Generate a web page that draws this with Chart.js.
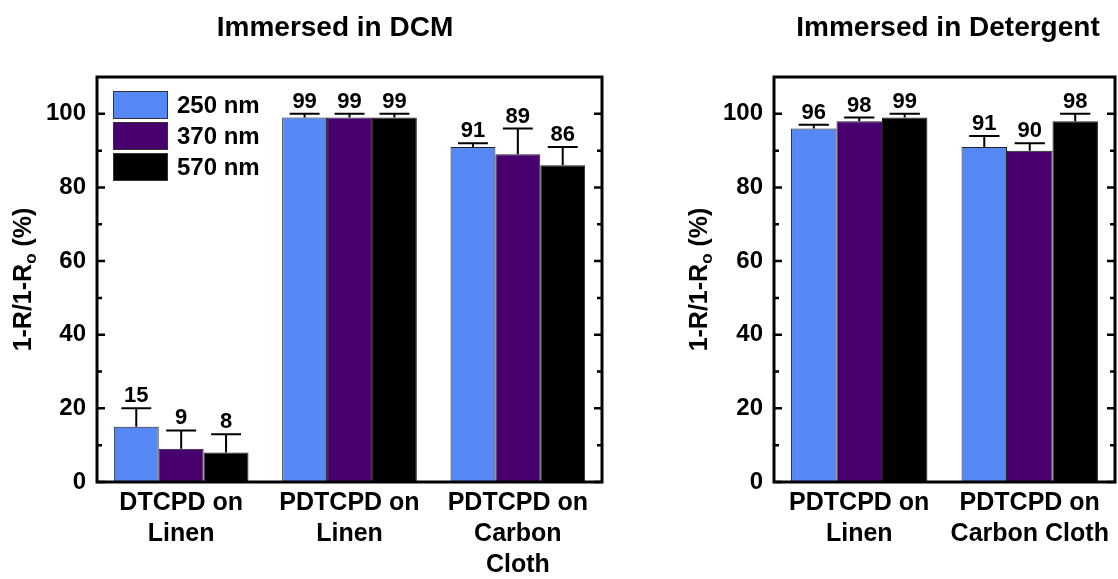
<!DOCTYPE html>
<html>
<head>
<meta charset="utf-8">
<script src="https://cdn.jsdelivr.net/npm/chart.js@4/dist/chart.umd.min.js"></script>
<style>
  html, body { margin: 0; padding: 0; background: #fff; }
  #wrap { position: relative; width: 1118px; height: 579px; overflow: hidden; }
  #dcm { position: absolute; left: 0; top: 0; }
  #det { position: absolute; left: 650px; top: 0; }
</style>
</head>
<body>
<div id="wrap">
  <canvas id="dcm" width="650" height="579"></canvas>
  <canvas id="det" width="468" height="579"></canvas>
</div>
<script>
// data
const series = ['250 nm', '370 nm', '570 nm'];
const colors = ['#5588F4', '#47006E', '#000000'];

const dcmCategories = [['DTCPD on', 'Linen'], ['PDTCPD on', 'Linen'], ['PDTCPD on', 'Carbon', 'Cloth']];
const dcm250 = [15, 99, 91];
const dcm370 = [9, 99, 89];
const dcm570 = [8, 99, 86];
const dcmErr250 = [5, 1, 1];
const dcmErr370 = [5, 1, 7];
const dcmErr570 = [5, 1, 5];

const detCategories = [['PDTCPD on', 'Linen'], ['PDTCPD on', 'Carbon Cloth']];
const det250 = [96, 91];
const det370 = [98, 90];
const det570 = [99, 98];
const detErr250 = [1, 3];
const detErr370 = [1, 2];
const detErr570 = [1, 2];

const yTicks = [0, 20, 40, 60, 80, 100];
const yMinorTicks = [10, 30, 50, 70, 90];

const FONT = '"Liberation Sans", Arial, sans-serif';
Chart.defaults.font.family = FONT;
Chart.defaults.color = '#000';

// frame, inward ticks, error bars, labels, titles
const decorations = {
    id: 'decorations',
    afterDatasetsDraw(chart, args, opts) {
        const { ctx, chartArea: a, scales: { y } } = chart;
        ctx.save();

        // error bars + value labels
        chart.data.datasets.forEach((ds, i) => {
            const meta = chart.getDatasetMeta(i);
            meta.data.forEach((bar, j) => {
                const top = y.getPixelForValue(ds.data[j] + ds.errors[j]);
                const half = bar.width / 3;
                ctx.strokeStyle = '#000';
                ctx.lineWidth = 2;
                ctx.beginPath();
                ctx.moveTo(bar.x, bar.y);
                ctx.lineTo(bar.x, top);
                ctx.moveTo(bar.x - half, top);
                ctx.lineTo(bar.x + half, top);
                ctx.stroke();

                ctx.fillStyle = '#000';
                ctx.font = 'bold 22px ' + FONT;
                ctx.textAlign = 'center';
                ctx.textBaseline = 'alphabetic';
                ctx.fillText(String(ds.data[j]), bar.x, top - 6);
            });
        });

        // box
        ctx.lineWidth = 3;
        ctx.strokeStyle = '#000';
        ctx.strokeRect(a.left, a.top, a.right - a.left, a.bottom - a.top);

        // inward ticks on both sides
        ctx.lineWidth = 2.5;
        const tick = (v, len) => {
            const py = y.getPixelForValue(v);
            ctx.beginPath();
            ctx.moveTo(a.left, py);
            ctx.lineTo(a.left + len, py);
            ctx.moveTo(a.right, py);
            ctx.lineTo(a.right - len, py);
            ctx.stroke();
        };
        yTicks.forEach(v => tick(v, 8));
        yMinorTicks.forEach(v => tick(v, 5));

        // panel title
        ctx.fillStyle = '#000';
        ctx.font = 'bold 28px ' + FONT;
        ctx.textAlign = 'center';
        ctx.textBaseline = 'middle';
        ctx.fillText(opts.title, opts.titleX, 28);

        // y axis title with subscript o
        const cy = (a.top + a.bottom) / 2;
        ctx.translate(opts.yTitleX, cy);
        ctx.rotate(-Math.PI / 2);
        ctx.textAlign = 'left';
        ctx.textBaseline = 'middle';
        const big = 'bold 25px ' + FONT;
        const small = 'bold 17px ' + FONT;
        const p1 = '1-R/1-R', p2 = 'o', p3 = ' (%)';
        ctx.font = big;
        const w1 = ctx.measureText(p1).width, w3 = ctx.measureText(p3).width;
        ctx.font = small;
        const w2 = ctx.measureText(p2).width;
        let x = -(w1 + w2 + w3) / 2;
        ctx.font = big;
        ctx.fillText(p1, x, 0);
        x += w1;
        ctx.font = small;
        ctx.fillText(p2, x, 7);
        x += w2;
        ctx.font = big;
        ctx.fillText(p3, x, 0);
        ctx.setTransform(1, 0, 0, 1, 0, 0);

        // legend inside the plot
        if (opts.legend) {
            chart.data.datasets.forEach((ds, i) => {
                const bx = a.left + 16, by = a.top + 14 + i * 31;
                ctx.fillStyle = ds.backgroundColor;
                ctx.fillRect(bx, by, 55, 28);
                ctx.lineWidth = 1;
                ctx.strokeStyle = '#333';
                ctx.strokeRect(bx + 0.5, by + 0.5, 54, 27);
                ctx.fillStyle = '#000';
                ctx.font = 'bold 24px ' + FONT;
                ctx.textAlign = 'left';
                ctx.textBaseline = 'middle';
                ctx.fillText(ds.label, bx + 64, by + 15);
            });
        }
        ctx.restore();
    }
};

function makeDatasets(values, errors) {
    return values.map((v, i) => ({
        label: series[i],
        data: v,
        errors: errors[i],
        backgroundColor: colors[i],
        borderColor: '#222',
        borderWidth: 1,
        categoryPercentage: 0.8,
        barPercentage: 1.0
    }));
}

function makeChart(id, labels, values, errors, cfg) {
    return new Chart(document.getElementById(id), {
        type: 'bar',
        data: { labels, datasets: makeDatasets(values, errors) },
        plugins: [decorations],
        options: {
            responsive: false,
            animation: false,
            layout: { padding: { top: 77, right: cfg.padRight, bottom: 0, left: 0 } },
            plugins: {
                legend: { display: false },
                tooltip: { enabled: false },
                decorations: cfg.deco
            },
            scales: {
                x: {
                    grid: { display: false, drawTicks: false },
                    border: { display: false },
                    ticks: {
                        font: { size: 25, weight: 'bold', lineHeight: 1.24 },
                        color: '#000',
                        padding: 6,
                        maxRotation: 0,
                        autoSkip: false
                    },
                    afterFit: s => { s.height = 97; }
                },
                y: {
                    min: 0,
                    max: 110,
                    grid: { display: false, drawTicks: false },
                    border: { display: false },
                    afterBuildTicks: s => { s.ticks = yTicks.map(v => ({ value: v })); },
                    ticks: {
                        font: { size: 24, weight: 'bold' },
                        color: '#000',
                        padding: 11
                    },
                    afterFit: s => { s.width = cfg.yWidth; }
                }
            }
        }
    });
}

makeChart('dcm', dcmCategories,
    [dcm250, dcm370, dcm570],
    [dcmErr250, dcmErr370, dcmErr570],
    { padRight: 48, yWidth: 97, deco: { title: 'Immersed in DCM', titleX: 335, yTitleX: 24, legend: true } });

makeChart('det', detCategories,
    [det250, det370, det570],
    [detErr250, detErr370, detErr570],
    { padRight: 3, yWidth: 124, deco: { title: 'Immersed in Detergent', titleX: 298, yTitleX: 50, legend: false } });
</script>
</body>
</html>
